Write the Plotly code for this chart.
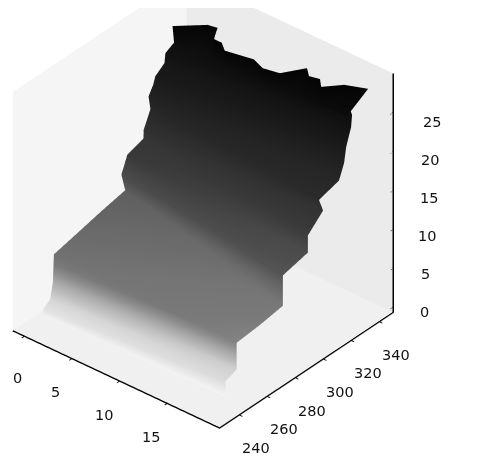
import numpy as np
import plotly.graph_objects as go

# rows of the surface, running from the front ridge up to the crown
left_x = [0, 0, 0, 0, 0, 0, 0, 0, -0.4, 0, 0, 0, 0, -0.2, 0, 0, 0, 0, 0]
left_y = [239.3, 239.3, 244.3, 246.4, 247.1, 263.6, 280.1, 298, 298, 299.5, 311, 311.2, 316, 316, 318, 319.5, 326, 326.7, 332.5]
left_z = [0.35, 1.13, 1.8, 3.76, 7.3, 8, 8.74, 9.43, 11.2, 13.8, 14.5, 15.6, 17.7, 19.2, 20.6, 21.5, 22.4, 23.6, 24.2]

mid_x = [9.1, 9.1, 9.1, 9.1, 9.1, 9.1, 9.1, 9.1, 9.1, 9.1, 9.1, 9.1, 9.1, 9.1, 9.1, 9.1, 9.1, 9.1, 9.1]
mid_y = [241.2, 242.6, 247.2, 250.1, 250.5, 267, 283.5, 292.4, 292.4, 302.1, 307.9, 313.4, 314.3, 321.5, 324.3, 325.8, 330.8, 331.5, 333.3]
mid_z = [0.3, 1.4, 1.85, 3, 6.45, 6.95, 7.6, 8.1, 10.8, 12.5, 13.9, 15.4, 17.3, 18.5, 20, 21.4, 23, 24.3, 25.3]

right_x = [18.6, 18.2, 18.2, 18.2, 18.2, 18.2, 18.2, 18.2, 18.2, 18.2, 18.2, 18.2, 18.2, 18.2, 18.2, 18.2, 18.2, 18.2, 18.2]
right_y = [243, 245.9, 250, 253.8, 253.8, 270.3, 286.8, 286.8, 286.8, 304.7, 304.7, 315.5, 312.6, 326.9, 330.5, 332, 335.5, 336.2, 334.1]
right_z = [0.2, 1.6, 1.9, 2.2, 5.6, 5.9, 6.4, 6.8, 10.3, 11.1, 13.3, 15.2, 16.9, 17.7, 19.5, 21.4, 23.5, 25, 26.3]

# jagged top edge
crown_x = [0.38, 2.43, 3.32, 4.09, 4.94, 5.86, 8.46, 9.84, 11.34, 12.54, 13.4, 14.35, 15.14, 16.37, 18.21]
crown_y = [329.2, 340.3, 341.4, 333.3, 333.3, 329.2, 332.3, 329.4, 331.3, 342.5, 338.1, 339.5, 334.9, 343, 347.6]
crown_z = [27, 27, 27, 27, 27, 27, 27, 27, 27, 27, 27, 27, 27, 27, 27]
crown_base_y = [331, 331.2, 331.3, 331.3, 331.4, 331.5, 331.7, 331.9, 332.1, 332.2, 332.2, 332.3, 332.4, 332.5, 332.6]
crown_base_z = [23.2, 23.5, 23.6, 23.7, 23.8, 23.9, 24.2, 24.4, 24.6, 24.7, 24.8, 24.9, 25, 25.1, 25.3]

x_ticks = [0, 5, 10, 15]
y_ticks = [240, 260, 280, 300, 320, 340]
z_ticks = [0, 5, 10, 15, 20, 25]

X_MIN, X_MAX = -1.2, 20.5
Y_MIN, Y_MAX = 226, 350
Z_MIN, Z_MAX = -0.7, 30
Z_BARVA = 27

gris = [
    [0 / Z_BARVA, "#f8f8f8"], [1 / Z_BARVA, "#e6e6e6"], [2 / Z_BARVA, "#d2d2d2"],
    [3 / Z_BARVA, "#bcbcbc"], [4 / Z_BARVA, "#a6a6a6"], [5 / Z_BARVA, "#8e8e8e"],
    [6 / Z_BARVA, "#7a7a7a"], [7 / Z_BARVA, "#747474"], [9 / Z_BARVA, "#626262"],
    [11 / Z_BARVA, "#4c4c4c"], [14 / Z_BARVA, "#383838"], [18 / Z_BARVA, "#262626"],
    [22 / Z_BARVA, "#181818"], [1.0, "#050505"],
]

svetlo = dict(ambient=1, diffuse=0, specular=0, roughness=1, fresnel=0)
pismo = dict(family="DejaVu Sans", size=14.5, color="#111111")

fig = go.Figure()

fig.add_trace(go.Surface(
    x=np.array([left_x, mid_x, right_x]).T,
    y=np.array([left_y, mid_y, right_y]).T,
    z=np.array([left_z, mid_z, right_z]).T,
    surfacecolor=np.array([left_z, mid_z, right_z]).T,
    colorscale=gris, cmin=0, cmax=Z_BARVA, showscale=False, lighting=svetlo,
))

fig.add_trace(go.Surface(
    x=np.array([crown_x, crown_x]),
    y=np.array([crown_base_y, crown_y]),
    z=np.array([crown_base_z, crown_z]),
    surfacecolor=np.array([crown_base_z, crown_z]),
    colorscale=gris, cmin=0, cmax=Z_BARVA, showscale=False, lighting=svetlo,
))

# svisla osa vpravo, plotly by ji dal doleva
fig.add_trace(go.Scatter3d(
    x=[X_MAX, X_MAX], y=[Y_MAX, Y_MAX], z=[Z_MIN, Z_MAX],
    mode="lines", line=dict(color="black", width=3), showlegend=False,
))
for t in z_ticks:
    fig.add_trace(go.Scatter3d(
        x=[X_MAX, X_MAX], y=[Y_MAX - 2, Y_MAX], z=[t, t],
        mode="lines", line=dict(color="black", width=2), showlegend=False,
    ))


def osa(rozsah, ticky, pozadi, cara=True):
    return dict(
        range=rozsah,
        tickvals=ticky if cara else [],
        title=dict(text=""),
        showticklabels=False,
        showgrid=False,
        zeroline=False,
        showline=cara,
        linecolor="black",
        linewidth=3,
        ticks="inside" if cara else "",
        ticklen=4,
        tickcolor="black",
        tickwidth=2,
        showbackground=True,
        backgroundcolor=pozadi,
        showspikes=False,
    )


def popisek(x, y, z, text, dx, dy):
    return dict(
        x=x, y=y, z=z, text=text, showarrow=False, xshift=dx, yshift=dy,
        font=pismo,
    )


popisky = (
    [popisek(t, Y_MIN, Z_MIN, str(t), -16, -33.5) for t in x_ticks[1:]]
    + [popisek(X_MAX, t, Z_MIN, str(t), 17, -33) for t in y_ticks]
    + [popisek(X_MAX, Y_MAX, t, str(t), 31 + 0.3 * t, -5 - 0.18 * t) for t in z_ticks]
)

fig.update_layout(
    width=483,
    height=458,
    margin=dict(l=0, r=0, t=0, b=0),
    paper_bgcolor="white",
    showlegend=False,
    scene=dict(
        domain=dict(x=[0, 1], y=[0, 1]),
        aspectmode="manual",
        aspectratio=dict(x=1.179, y=1.179, z=1.259),
        xaxis=osa([X_MIN, X_MAX], x_ticks, "#f5f5f5"),
        yaxis=osa([Y_MIN, Y_MAX], y_ticks, "#ebebeb"),
        zaxis=osa([Z_MIN, Z_MAX], z_ticks, "#f0f0f0", cara=False),
        annotations=popisky,
        camera=dict(
            eye=dict(x=0.953, y=-0.819, z=0.654),
            center=dict(x=0.21, y=0.065, z=-0.126),
            up=dict(x=0, y=0, z=1),
            projection=dict(type="orthographic"),
        ),
    ),
)

# scene annotation ten levy popisek orizne
fig.add_annotation(
    xref="paper", yref="paper", x=9 / 483, y=1 - 370 / 458,
    xanchor="center", yanchor="middle",
    text=str(x_ticks[0]), showarrow=False, font=pismo,
)

fig.write_html("out.html")
